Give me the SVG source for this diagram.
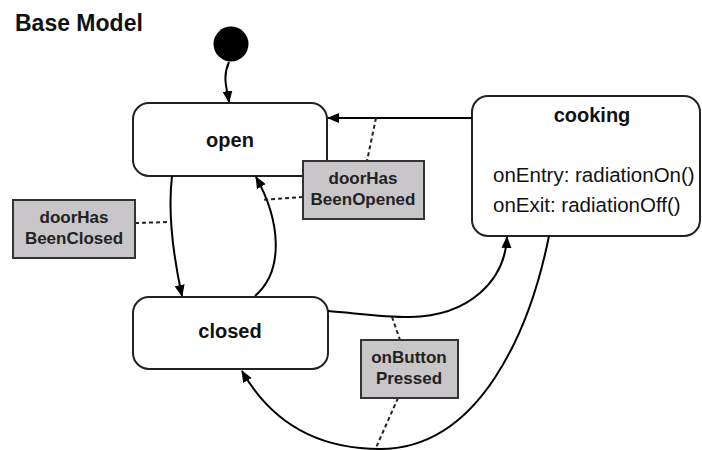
<svg xmlns="http://www.w3.org/2000/svg" width="702" height="450" viewBox="0 0 702 450">
  <defs>
    <marker id="arrow" viewBox="0 0 12 10" refX="11" refY="5" markerWidth="12" markerHeight="10" markerUnits="userSpaceOnUse" orient="auto">
      <path d="M0,0 L12,5 L0,10 Z" fill="#000"/>
    </marker>
    <style>
      .state { fill: #fff; stroke: #222; stroke-width: 2; }
      .event { fill: #c8c6c9; stroke: #333; stroke-width: 2; }
      .title { font-family: "Liberation Sans", Arial, sans-serif; font-weight: bold; font-size: 23px; fill: #111; }
      .name { font-family: "Liberation Sans", Arial, sans-serif; font-weight: bold; font-size: 20px; fill: #111; text-anchor: middle; }
      .body { font-family: "Liberation Sans", Arial, sans-serif; font-size: 20.5px; fill: #111; }
      .evt { font-family: "Liberation Sans", Arial, sans-serif; font-weight: bold; font-size: 17px; fill: #222; text-anchor: middle; }
      .edge { fill: none; stroke: #000; stroke-width: 2; }
      .link { fill: none; stroke: #222; stroke-width: 2; stroke-dasharray: 4 3; }
    </style>
  </defs>

  <text class="title" x="15" y="31">Base Model</text>

  <g id="initial">
    <circle cx="231" cy="44" r="17.5" fill="#000"/>
  </g>

  <g id="open">
    <rect class="state" x="133" y="103" width="194" height="73" rx="16"/>
    <text class="name" x="230" y="147">open</text>
  </g>

  <g id="closed">
    <rect class="state" x="133" y="297" width="195" height="72" rx="16"/>
    <text class="name" x="230" y="338">closed</text>
  </g>

  <g id="cooking">
    <rect class="state" x="472" y="96" width="228" height="140" rx="16"/>
    <text class="name" x="592" y="122">cooking</text>
    <text class="body" x="493" y="182">onEntry: radiationOn()</text>
    <text class="body" x="493" y="212">onExit: radiationOff()</text>
  </g>

  <g id="connectors">
    <path class="edge" d="M229,62 C222,78 227,88 229,102" marker-end="url(#arrow)"/>
    <path class="edge" d="M472,118 L328,118" marker-end="url(#arrow)"/>
    <path class="edge" d="M172,176 C168,210 172,250 182,296" marker-end="url(#arrow)"/>
    <path class="edge" d="M255,296 C285,270 280,220 256,177" marker-end="url(#arrow)"/>
    <path class="edge" d="M328,311 C355,313 380,317 410,317 C470,316 505,280 507,237" marker-end="url(#arrow)"/>
    <path class="edge" d="M549,236 C530,330 480,449 380,449 C315,449 270,420 242,371" marker-end="url(#arrow)"/>
    <path class="link" d="M376,118 L367,161"/>
    <path class="link" d="M303,197 L262,200"/>
    <path class="link" d="M135,223 L171,222"/>
    <path class="link" d="M392,317 L400,340"/>
    <path class="link" d="M398,398 L375,450"/>
  </g>

  <g id="doorHasBeenOpened">
    <rect class="event" x="303" y="161" width="121" height="58"/>
    <text class="evt" x="363" y="184">doorHas</text>
    <text class="evt" x="363" y="205">BeenOpened</text>
  </g>

  <g id="doorHasBeenClosed">
    <rect class="event" x="13" y="200" width="122" height="58"/>
    <text class="evt" x="74" y="223">doorHas</text>
    <text class="evt" x="74" y="244">BeenClosed</text>
  </g>

  <g id="onButtonPressed">
    <rect class="event" x="361" y="340" width="97" height="58"/>
    <text class="evt" x="409" y="363">onButton</text>
    <text class="evt" x="409" y="384">Pressed</text>
  </g>
</svg>
